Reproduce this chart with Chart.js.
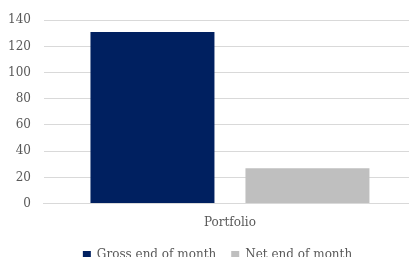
<!DOCTYPE html>
<html><head><meta charset="utf-8">
<script src="https://cdn.jsdelivr.net/npm/chart.js@4/dist/chart.umd.min.js"></script>
<style>
html,body{margin:0;padding:0;background:#fff;overflow:hidden;width:409px;height:257px;}
#wrap{position:relative;width:416px;height:257px;overflow:hidden;}
</style></head>
<body><div id="wrap"><canvas id="c" width="416" height="271"></canvas></div>
<script>
const categories = ["Portfolio"];
const seriesNames = ["Gross end of month", "Net end of month"];
const grossValues = [131];
const netValues = [27];
const yTicks = [0, 20, 40, 60, 80, 100, 120, 140];

const font = {family: "'DejaVu Serif', serif", size: 12};
const legendShift = {
  id: 'legendShift',
  afterLayout(chart) {
    if (chart.legend) { chart.legend.left += 12; chart.legend.right += 12; }
  }
};
new Chart(document.getElementById('c'), {
  type: 'bar',
  data: {
    labels: categories,
    datasets: [
      {label: seriesNames[0], data: grossValues, backgroundColor: '#002060', barPercentage: 0.8, categoryPercentage: 0.833},
      {label: seriesNames[1], data: netValues, backgroundColor: '#bfbfbf', barPercentage: 0.8, categoryPercentage: 0.833}
    ]
  },
  plugins: [legendShift],
  options: {
    responsive: false,
    animation: false,
    layout: {padding: {top: 20, left: -5, right: 0, bottom: 0}},
    plugins: {
      legend: {position: 'bottom', labels: {boxWidth: 8, boxHeight: 8, color: '#595959', font: font, padding: 15}},
      tooltip: {enabled: false}
    },
    scales: {
      x: {
        grid: {display: false},
        border: {display: true, color: '#d9d9d9'},
        ticks: {color: '#595959', font: font, padding: 4}
      },
      y: {
        min: 0, max: 140,
        afterBuildTicks: (axis) => { axis.ticks = yTicks.map(v => ({value: v})); },
        grid: {color: '#d9d9d9', drawTicks: false},
        border: {display: false},
        ticks: {color: '#595959', font: font, padding: 13}
      }
    }
  }
});
</script></body></html>
